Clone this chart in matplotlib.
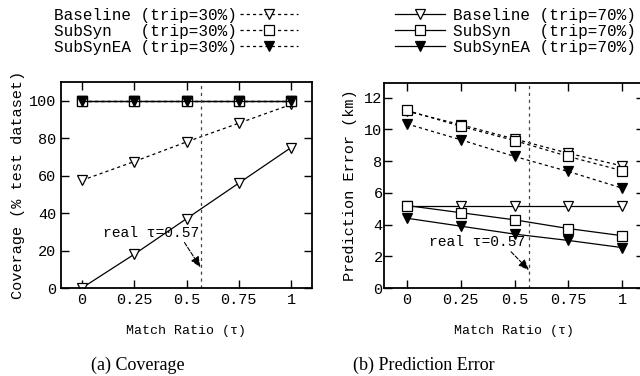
import numpy as np
import matplotlib.pyplot as plt

plt.rcParams['font.family'] = 'Liberation Mono'

tau = [0, 0.25, 0.5, 0.75, 1]
tau_labels = ['0', '0.25', '0.5', '0.75', '1']
real_tau = 0.567

# coverage (% test dataset)
cov_base30 = [57.5, 67.5, 78, 88, 98]
cov_sub30 = [100, 100, 100, 100, 100]
cov_ea30 = [100, 100, 100, 100, 100]
cov_base70 = [0, 18, 37, 56, 75]
cov_sub70 = [100, 100, 100, 100, 100]
cov_ea70 = [100, 100, 100, 100, 100]

# prediction error (km)
err_base30 = [11.15, 10.3, 9.4, 8.5, 7.7]
err_sub30 = [11.2, 10.2, 9.3, 8.3, 7.4]
err_ea30 = [10.35, 9.35, 8.3, 7.35, 6.3]
err_base70 = [5.2, 5.2, 5.2, 5.2, 5.2]
err_sub70 = [5.2, 4.75, 4.3, 3.75, 3.3]
err_ea70 = [4.4, 3.9, 3.4, 3.0, 2.55]

names = ['Baseline', 'SubSyn  ', 'SubSynEA']
markers = ['v', 's', 'v']
fills = ['white', 'white', 'black']

fig = plt.figure(figsize=(6.4, 3.76), dpi=100)
W, H = 640, 376
ax1 = fig.add_axes([61 / W, 1 - 288 / H, 251 / W, 206 / H])
ax2 = fig.add_axes([384 / W, 1 - 288 / H, 259.5 / W, 205 / H])

dash = (0, (2.5, 2.5))

def draw(ax, s30, s70):
    h30, h70 = [], []
    for s, m, f, n in zip(s30, markers, fills, names):
        l, = ax.plot(tau, s, color='black', lw=0.9, ls=dash, marker=m, ms=7.5,
                     mfc=f, mec='black', mew=0.9, label=n + ' (trip=30%)')
        h30.append(l)
    for s, m, f, n in zip(s70, markers, fills, names):
        l, = ax.plot(tau, s, color='black', lw=0.9, ls='-', marker=m, ms=7.5,
                     mfc=f, mec='black', mew=0.9, label=n + ' (trip=70%)')
        h70.append(l)
    ax.axvline(real_tau, color='#444444', lw=0.9, ls=(0, (2.5, 3)))
    ax.set_xticks(tau)
    ax.set_xticklabels(tau_labels)
    ax.tick_params(direction='in', length=6, width=1, top=True, right=True,
                   labelsize=11)
    for sp in ax.spines.values():
        sp.set_linewidth(1.3)
    ax.set_xlabel('Match Ratio (τ)', fontsize=9.5, labelpad=13)
    return h30, h70

h30, h70 = draw(ax1, [cov_base30, cov_sub30, cov_ea30],
                [cov_base70, cov_sub70, cov_ea70])
ax1.set_xlim(-0.1, 1.1)
ax1.set_ylim(0, 110)
ax1.set_yticks([0, 20, 40, 60, 80, 100])
ax1.set_ylabel('Coverage (% test dataset)', fontsize=11, labelpad=3)
ax1.annotate('real τ=0.57', xy=(0.567, 11), xytext=(0.1, 29.5),
             fontsize=10.5, va='center', ha='left',
             arrowprops=dict(arrowstyle='-|>,head_length=0.6,head_width=0.25',
                             ls='--', lw=0.8, color='black',
                             shrinkA=0, shrinkB=0, relpos=(0.83, 0)))

draw(ax2, [err_base30, err_sub30, err_ea30],
     [err_base70, err_sub70, err_ea70])
ax2.set_xlim(-0.107, 1.1)
ax2.set_ylim(0, 12.93)
ax2.set_yticks([0, 2, 4, 6, 8, 10, 12])
ax2.tick_params(axis='y', pad=1)
ax2.set_ylabel('Prediction Error (km)', fontsize=11, labelpad=5)
ax2.annotate('real τ=0.57', xy=(0.567, 1.13), xytext=(0.1, 2.9),
             fontsize=10.5, va='center', ha='left',
             arrowprops=dict(arrowstyle='-|>,head_length=0.6,head_width=0.25',
                             ls='--', lw=0.8, color='black',
                             shrinkA=0, shrinkB=0, relpos=(0.83, 0)))

fig.legend(handles=h30, loc='upper left', bbox_to_anchor=(54 / W, 1 - 8 / H),
           frameon=False, markerfirst=False, fontsize=11.5, handlelength=3.6,
           handletextpad=0.2, labelspacing=0.05, borderpad=0, borderaxespad=0)
fig.legend(handles=h70, loc='upper left', bbox_to_anchor=(395 / W, 1 - 8 / H),
           frameon=False, fontsize=11.5, handlelength=3.1,
           handletextpad=0.55, labelspacing=0.05, borderpad=0, borderaxespad=0)

fig.text(138 / W, 1 - 365 / H, '(a) Coverage', family='Liberation Serif',
         fontsize=13, ha='center', va='center')
fig.text(424 / W, 1 - 365 / H, '(b) Prediction Error', family='Liberation Serif',
         fontsize=13, ha='center', va='center')

fig.savefig('out.png', dpi=100)
